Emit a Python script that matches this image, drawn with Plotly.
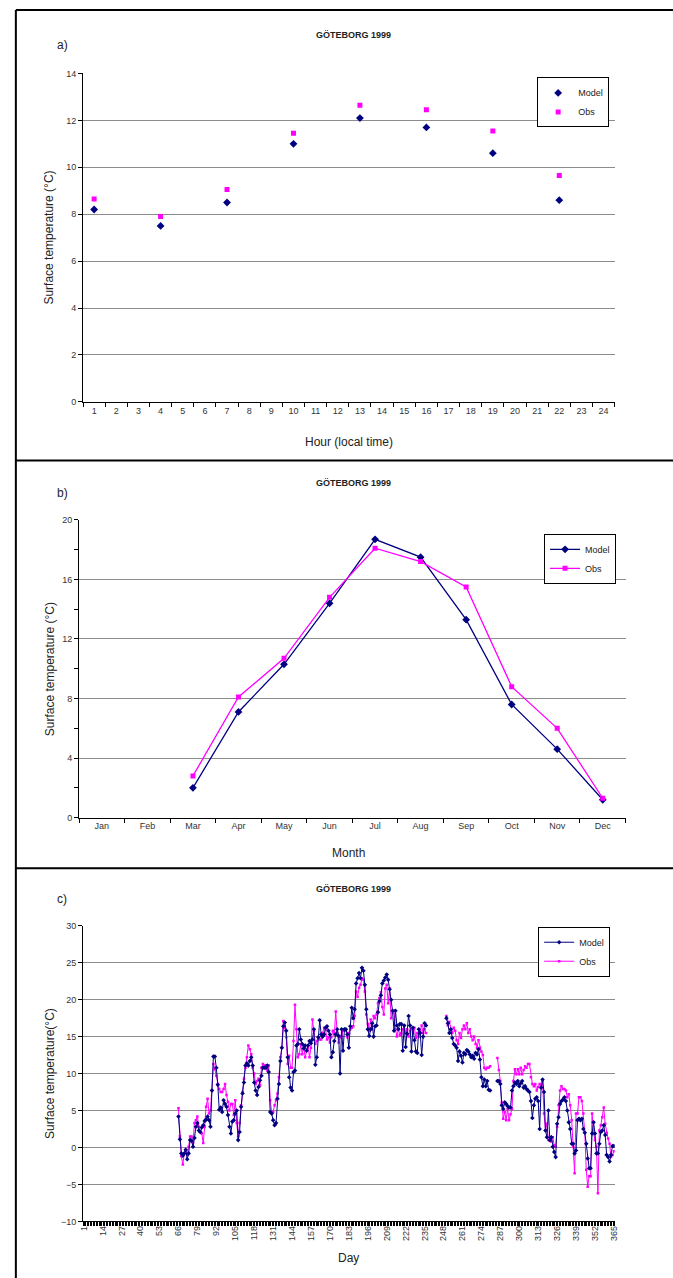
import plotly.graph_objects as go

W, H = 673, 1278
def px(x): return x / W
def py(y): return 1 - y / H

FONT = "Liberation Sans, Arial, sans-serif"
NAVY = "#000080"
MAG = "#FF00FF"
GRID = "#8c8c8c"

# ---------- Panel a: diurnal ----------
hours = [1, 4, 7, 10, 13, 16, 19, 22]
hour_labels = [str(h) for h in range(1, 25)]
model_hour = [8.2, 7.5, 8.5, 11.0, 12.1, 11.7, 10.6, 8.6]
obs_hour = [8.65, 7.9, 9.05, 11.45, 12.65, 12.45, 11.55, 9.65]

# ---------- Panel b: monthly ----------
month_labels = ["Jan", "Feb", "Mar", "Apr", "May", "Jun", "Jul", "Aug", "Sep", "Oct", "Nov", "Dec"]
months = [3, 4, 5, 6, 7, 8, 9, 10, 11, 12]
model_month = [2.0, 7.1, 10.3, 14.4, 18.7, 17.5, 13.3, 7.6, 4.6, 1.2]
obs_month = [2.8, 8.1, 10.7, 14.8, 18.1, 17.2, 15.5, 8.8, 6.0, 1.3]

# ---------- Panel c: daily ----------
days = list(range(66, 366))
day_ticks = list(range(1, 366, 13))

model_d66_236 = [
    4.2, 1.1, -0.8, -1.1, -0.8, -0.3, -1.6, -0.8, 1.0, 0.9,
    0.1, 1.3, 2.8, 3.3, 2.3, 2.1, 2.7, 3.0, 3.6, 3.8,
    4.2, 3.7, 2.8, 7.7, 12.3, 12.3, 10.8, 8.5, 5.1, 5.4,
    4.8, 6.4, 5.9, 5.5, 4.4, 2.8, 1.9, 3.5, 3.7, 4.6,
    5.0, 1.0, 2.1, 5.5, 7.3, 8.8, 11.1, 11.4, 11.1, 11.7,
    12.2, 11.1, 8.8, 7.7, 7.1, 8.2, 9.1, 9.7, 10.8, 10.8,
    10.8, 11.1, 10.2, 4.8, 4.6, 3.7, 3.0, 3.3, 6.6, 8.6,
    11.7, 13.5, 16.4, 16.9, 15.8, 12.2, 9.5, 8.1, 7.7, 10.2,
    10.4, 13.8, 14.0, 16.0, 14.6, 14.0, 13.4, 13.8, 13.1, 13.8,
    14.4, 14.1, 14.6, 16.0, 11.2, 12.2, 14.9, 17.2, 15.3, 15.0,
    15.3, 16.2, 16.4, 15.8, 15.3, 12.2, 12.9, 14.4, 15.3, 16.0,
    15.1, 10.0, 16.0, 13.1, 16.0, 16.0, 15.3, 13.5, 16.4, 18.9,
    17.5, 18.7, 22.2, 22.9, 23.6, 22.9, 24.3, 23.9, 22.0, 18.7,
    16.0, 15.1,
    16.0, 16.8, 15.0, 16.4, 16.5, 18.3, 19.8, 20.6, 22.2, 22.6,
    23.0, 23.4, 22.7, 21.4, 20.0, 18.5, 15.8, 18.5, 16.5, 16.0,
    16.7, 16.7, 13.1, 16.5, 13.6, 15.4, 17.8, 16.5, 13.0, 16.2,
    14.5, 13.0, 12.8, 16.0, 15.5, 12.5, 15.0, 16.8, 16.5,
]
model_d250_280 = [
    17.5, 16.8, 15.5, 16.0, 14.8, 14.0, 13.8, 13.5, 11.7, 13.0,
    12.4, 11.5, 12.8, 12.6, 13.2, 13.0, 12.6, 12.2, 12.4, 12.0,
    12.8, 12.6, 13.3, 11.9, 9.5, 8.3, 9.2, 8.3, 9.0, 7.8,
    7.7,
]
model_d285_365 = [
    9.0, 9.0, 8.6, 5.7, 5.2, 6.1, 5.9, 5.6, 5.4, 5.4,
    7.7, 8.3, 8.8, 8.6, 9.0, 8.3, 8.7, 9.0, 8.1, 8.3,
    7.9, 7.7, 7.5, 6.3, 4.0, 5.7, 6.6, 6.8, 6.3, 2.5,
    8.1, 9.2, 7.5, 2.3, 1.4, 5.0, 1.0, 1.4, 0.1, -0.6,
    -1.3, 3.2, 4.1, 5.9, 6.3, 6.5, 6.8, 6.3, 5.0, 3.4,
    2.5, 0.5, 0.5, -0.8, -0.4, 3.7, 3.9, 3.7, 3.9, 2.5,
    2.0, 0.5, -1.5, -2.8, -2.8, 1.9, 3.4, 1.9, -0.8, -0.8,
    0.5, 2.1, 2.3, 3.0, 1.7, -1.0, -1.3, -1.9, -1.0, 0.2,
    0.2,
]

obs_d66_236 = [
    5.3, 1.5, -1.2, -2.3, -0.8, -0.3, -1.0, 0.1, 1.5, 1.5,
    0.6, 3.3, 3.7, 4.2, 2.8, 2.1, 1.9, 0.6, 2.8, 5.5,
    6.6, 4.6, 5.0, 7.7, 11.3, 10.6, 9.7, 8.6, 7.9, 7.5,
    7.5, 7.9, 8.6, 7.1, 6.2, 5.0, 5.9, 5.9, 4.4, 6.4,
    3.3, 1.5, 3.3, 5.7, 7.5, 9.3, 10.8, 12.2, 13.8, 13.3,
    12.6, 10.8, 10.0, 8.6, 9.0, 9.3, 8.4, 10.8, 11.3, 11.1,
    11.1, 10.4, 11.1, 6.4, 4.8, 4.8, 5.7, 6.4, 7.3, 9.5,
    12.2, 13.5, 17.1, 16.2, 14.9, 11.3, 12.4, 10.8, 10.8, 14.4,
    19.3, 16.0, 12.2, 12.6, 14.0, 12.6, 13.8, 12.2, 13.1, 13.8,
    12.2, 13.5, 17.3, 15.8, 14.0, 14.4, 14.9, 14.6, 14.6, 15.5,
    16.2, 16.0, 14.6, 14.9, 14.2, 14.9, 15.8, 15.3, 18.4, 15.5,
    14.2, 14.9, 15.1, 15.8, 16.0, 15.8, 14.9, 15.5, 16.0, 16.2,
    16.4, 17.8, 21.1, 20.4, 21.6, 22.0, 22.9, 22.7, 21.1, 18.0,
    16.7, 15.8,
    17.3, 16.0, 17.8, 17.5, 18.0, 19.5, 20.2, 21.0, 19.0, 18.0,
    21.5, 22.0, 19.5, 21.5, 17.5, 18.2, 18.5, 16.0, 15.0, 16.0,
    15.2, 15.5, 16.0, 16.5, 15.5, 16.0, 15.0, 15.8, 16.0, 15.5,
    16.2, 14.8, 15.5, 15.0, 15.8, 16.5, 15.5, 16.0, 15.5,
]
obs_d250_280 = [
    17.8, 16.5, 17.0, 16.0, 15.5, 16.2, 15.8, 14.5, 14.0, 15.5,
    14.8, 16.0, 16.5, 16.0, 16.8, 15.5, 16.0, 15.0, 14.5, 15.0,
    14.0, 13.5, 14.5, 13.5, 13.0, 12.5, 10.8, 10.6, 10.8, 10.8,
    11.0,
]
obs_d285_365 = [
    12.1, 10.5, 9.0, 6.1, 3.9, 4.8, 3.7, 5.2, 3.7, 4.5,
    5.2, 9.0, 10.6, 9.9, 10.6, 9.9, 10.8, 9.9, 10.5, 11.0,
    10.8, 11.3, 11.3, 9.5, 8.6, 8.3, 8.6, 7.7, 8.2, 8.6,
    8.1, 9.0, 4.6, 2.3, 3.2, 1.0, 0.9, 0.8, 1.4, 0.3,
    0.1, 2.8, 5.7, 7.7, 8.3, 7.9, 7.9, 7.7, 6.8, 7.2,
    5.7, 3.7, 0.1, -3.5, 4.6, 4.6, 6.8, 6.8, 6.3, 4.6,
    2.1, -3.0, -5.3, -3.9, -3.9, 4.6, 1.9, 1.0, 0.1, -6.2,
    2.3, 3.0, 4.1, 5.4, 3.2, 2.0, 1.2, 0.5, -1.3, -1.0,
    -0.5,
]
gap1 = [None] * 13   # days 237-249 missing
gap2 = [None] * 4    # days 281-284 missing
model_day = model_d66_236 + gap1 + model_d250_280 + gap2 + model_d285_365
obs_day = obs_d66_236 + gap1 + obs_d250_280 + gap2 + obs_d285_365

fig = go.Figure()

# Panel a
fig.add_trace(go.Scatter(x=hours, y=model_hour, mode="markers", name="Model",
                         marker=dict(symbol="diamond", size=6, color=NAVY),
                         xaxis="x", yaxis="y", legend="legend"))
fig.add_trace(go.Scatter(x=hours, y=obs_hour, mode="markers", name="Obs",
                         marker=dict(symbol="square", size=5, color=MAG),
                         xaxis="x", yaxis="y", legend="legend"))
# Panel b
fig.add_trace(go.Scatter(x=months, y=model_month, mode="lines+markers", name="Model",
                         line=dict(color=NAVY, width=1.3),
                         marker=dict(symbol="diamond", size=6, color=NAVY),
                         xaxis="x2", yaxis="y2", legend="legend2"))
fig.add_trace(go.Scatter(x=months, y=obs_month, mode="lines+markers", name="Obs",
                         line=dict(color=MAG, width=1.3),
                         marker=dict(symbol="square", size=5, color=MAG),
                         xaxis="x2", yaxis="y2", legend="legend2"))
# Panel c
fig.add_trace(go.Scatter(x=days, y=obs_day, mode="lines+markers", name="Obs",
                         line=dict(color=MAG, width=1),
                         marker=dict(symbol="square", size=2.5, color=MAG),
                         xaxis="x3", yaxis="y3", legend="legend3", legendrank=2))
fig.add_trace(go.Scatter(x=days, y=model_day, mode="lines+markers", name="Model",
                         line=dict(color=NAVY, width=1),
                         marker=dict(symbol="diamond", size=3.5, color=NAVY),
                         xaxis="x3", yaxis="y3", legend="legend3", legendrank=1))

tickfont = dict(family=FONT, size=9, color="#333")

def xax(domain, anchor, rng, tickvals, ticktext, angle=0, fsize=9):
    return dict(domain=domain, anchor=anchor, range=rng, tickmode="array",
                tickvals=tickvals, ticktext=ticktext, ticks="", showgrid=False,
                zeroline=False, showline=True, linecolor="black", linewidth=1,
                tickfont=dict(family=FONT, size=fsize, color="#333"), tickangle=angle,
                minor=dict(tickmode="linear", tick0=0.5, dtick=1, ticks="outside",
                           ticklen=4, tickcolor="black", showgrid=False),
                fixedrange=True)

def yax(domain, anchor, rng, dtick, minor_dtick=None):
    d = dict(domain=domain, anchor=anchor, range=rng, tickmode="linear", tick0=rng[0],
             dtick=dtick, ticks="outside", ticklen=4, tickcolor="black",
             showgrid=True, gridcolor=GRID, gridwidth=1, zeroline=False,
             showline=True, linecolor="black", linewidth=1, tickfont=tickfont,
             fixedrange=True)
    if minor_dtick:
        d["minor"] = dict(dtick=minor_dtick, ticks="outside", ticklen=4,
                          tickcolor="black", showgrid=False)
    return d

fig.update_layout(
    width=W, height=H, margin=dict(l=0, r=0, t=0, b=0),
    paper_bgcolor="white", plot_bgcolor="white",
    font=dict(family=FONT, color="#222"),
    xaxis=xax([px(80), px(618)], "y", [0.5, 24.5], list(range(1, 25)), hour_labels),
    yaxis=yax([py(400), py(69)], "x", [0, 14], 2),
    xaxis2=xax([px(76), px(629)], "y2", [0.5, 12.5], list(range(1, 13)), month_labels),
    yaxis2=yax([py(819), py(519)], "x2", [0, 20], 4, 2),
    xaxis3=xax([px(80), px(618)], "y3", [0.5, 365.5], day_ticks,
               [str(d) for d in day_ticks], angle=-90, fsize=9),
    yaxis3=yax([py(1226), py(928)], "x3", [-10, 30], 5),
    showlegend=True,
)
legend_common = dict(bgcolor="white", bordercolor="black", borderwidth=1,
                     font=dict(family=FONT, size=9, color="#222"),
                     xanchor="center", yanchor="top", itemwidth=30,
                     tracegroupgap=0, traceorder="normal")
fig.update_layout(
    legend=dict(x=px(576), y=py(73), **legend_common),
    legend2=dict(x=px(583), y=py(533), **legend_common),
    legend3=dict(x=px(577), y=py(929), **legend_common),
)

ann = []
def text(x, y, s, size=12, angle=0, bold=False):
    ann.append(dict(x=px(x), y=py(y), xref="paper", yref="paper", showarrow=False,
                    text=f"<b>{s}</b>" if bold else s, textangle=angle,
                    font=dict(family=FONT, size=size, color="#222"),
                    xanchor="center", yanchor="middle"))

for (ty, lab, ytitle_y, ytitle, xt_y, xtitle) in [
    (30, "a)", 234, "Surface temperature (°C)", 440, "Hour (local time)"),
    (482, "b)", 669, "Surface temperature (°C)", 855, "Month"),
    (891, "c)", 1077, "Surface temperature(°C)", 1263, "Day"),
]:
    text(354, ty, "GÖTEBORG 1999", size=9, bold=True)
    text(59, ty + 10, lab, size=12)
    text(46, ytitle_y, ytitle, size=12, angle=-90)
    text(349, xt_y, xtitle, size=12)
fig.update_layout(annotations=ann)

shapes = []
for y in [5, 459, 870]:
    shapes.append(dict(type="line", xref="paper", yref="paper", x0=px(12), x1=1.01,
                       y0=py(y), y1=py(y), line=dict(color="black", width=2)))
shapes.append(dict(type="line", xref="paper", yref="paper", x0=px(12), x1=px(12),
                   y0=py(5), y1=-0.01, line=dict(color="black", width=2)))
fig.update_layout(shapes=shapes)

fig.write_html("out.html", config={"displayModeBar": False},
               post_script="document.body.style.margin='0';document.body.style.overflow='hidden';")
